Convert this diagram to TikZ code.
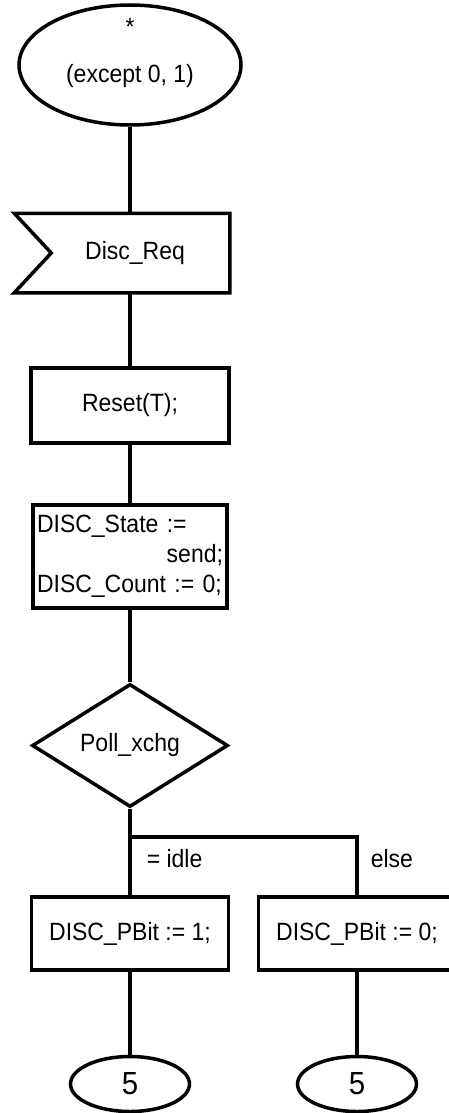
\documentclass[tikz,border=0pt]{standalone}
\usepackage{fontspec}
\setmainfont{Liberation Sans}[FakeStretch=0.92]
\usetikzlibrary{shapes.geometric}

\begin{document}
\begin{tikzpicture}[x=1pt, y=-1pt, line width=3.5pt,
        every node/.style={font=\fontsize{25}{30}\selectfont, inner sep=0pt},
        oval/.style={draw, ellipse},
        taskbox/.style={draw, rectangle, minimum width=197pt, minimum height=73pt},
        choice/.style={draw, diamond, minimum width=196pt, minimum height=103pt}]
        \useasboundingbox (0,0) rectangle (449,1113);

        % Start
        \node[oval, minimum width=222pt, minimum height=120pt] (start) at (130,65) {};
        \node[anchor=base] (star) at (130,36) {*};
        \node[anchor=base] (except) at (130,83) {(except 0, 1)};

        % Input signal
        \node[minimum width=212pt, minimum height=76pt] (req) at (122,253) {\hspace*{26pt}Disc\_Req};
        \draw (req.north west) -- (req.north east) -- (req.south east) -- (req.south west) -- ([xshift=37pt]req.west) -- cycle;

        % Tasks
        \node[taskbox, minimum width=198pt, minimum height=75pt] (reset) at (130,405.5) {Reset(T);};
        \node[taskbox, minimum width=194pt, minimum height=103pt, text width=186pt, align=left] (state) at (130,556.5) {DISC\_State :=\\\hfill send;\\DISC\_Count := 0;};

        % Decision
        \node[choice] (poll) at (130,745.5) {Poll\_xchg};
        \coordinate (fork) at (130,837);
        \node[anchor=west] (idle) at (145,859) {= idle};
        \node[anchor=west] (else) at (369,859) {else};
        \node[taskbox] (bit1) at (130,933.5) {DISC\_PBit := 1;};
        \node[taskbox] (bit0) at (357,933.5) {DISC\_PBit := 0;};

        % Connectors
        \node[oval, minimum width=119pt, minimum height=55pt, font=\fontsize{32}{36}\selectfont] (next1) at (130,1084) {5};
        \node[oval, minimum width=119pt, minimum height=55pt, font=\fontsize{32}{36}\selectfont] (next0) at (357,1084) {5};

        % Lines
        \draw (start.south) -- (start.south |- req.north);
        \draw (reset.north |- req.south) -- (reset.north);
        \draw (reset) -- (state);
        \draw (state) -- (poll);
        \draw (poll) -- (bit1);
        \draw (fork) -| (bit0.north);
        \draw (bit1) -- (next1);
        \draw (bit0) -- (next0);
    \end{tikzpicture}
\end{document}
